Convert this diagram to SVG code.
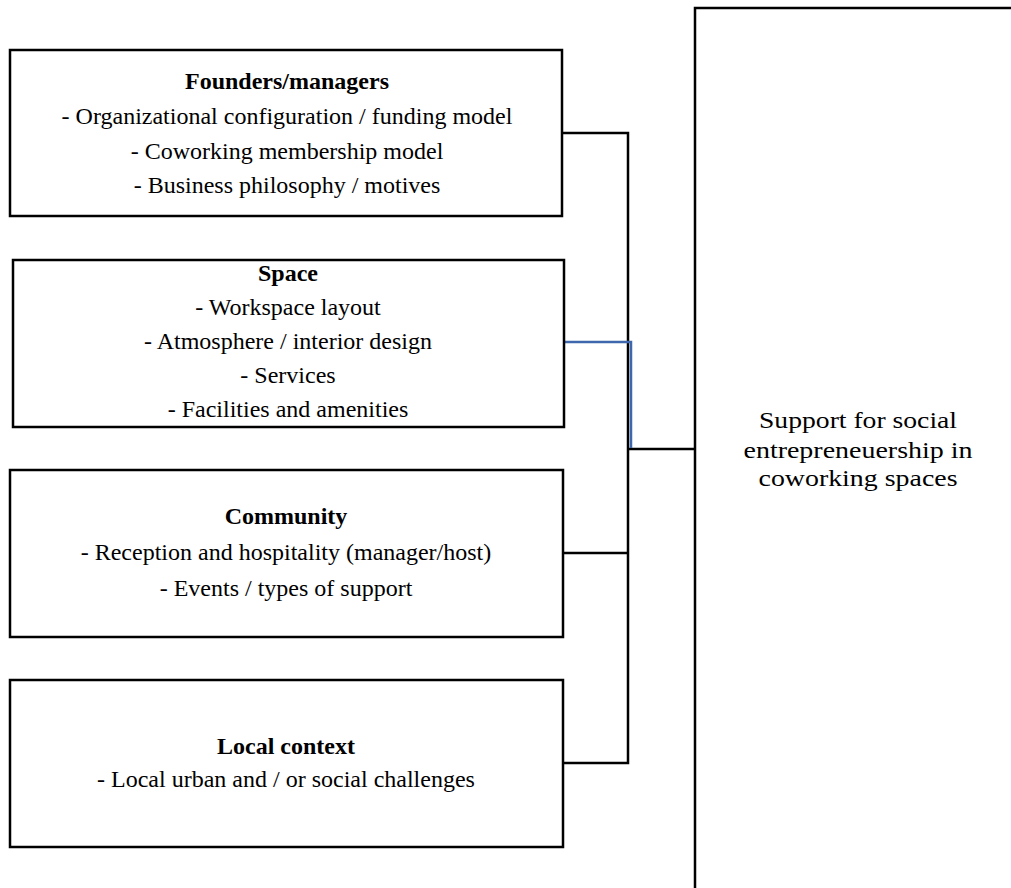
<svg xmlns="http://www.w3.org/2000/svg" width="1011" height="888" viewBox="0 0 1011 888">
<style>
.box{fill:#fff;stroke:#000;stroke-width:2.5}
.t{font-family:"Liberation Serif","Times New Roman",serif;font-size:24px;fill:#000;text-anchor:middle}
.b{font-weight:bold}
.big{font-family:"Liberation Serif","Times New Roman",serif;font-size:23px;fill:#000;text-anchor:middle}
.c{fill:none;stroke:#000;stroke-width:2.5}
.cb{fill:none;stroke:#3f67ad;stroke-width:2.5}
</style>
<rect width="1011" height="888" fill="#fff"/>
<g id="connectors">
<polyline class="c" points="562,133 628,133 628,763 563,763"/>
<line class="c" x1="563" y1="553" x2="628" y2="553"/>
<line class="c" x1="628" y1="449" x2="695" y2="449"/>
<polyline class="cb" points="564,342 631,342 631,448"/>
</g>
<g id="outcome">
<rect class="box" x="695" y="8" width="400" height="1000"/>
<text class="big" x="858" y="428" textLength="198" lengthAdjust="spacingAndGlyphs">Support for social</text>
<text class="big" x="858" y="458" textLength="229" lengthAdjust="spacingAndGlyphs">entrepreneuership in</text>
<text class="big" x="858" y="486" textLength="199" lengthAdjust="spacingAndGlyphs">coworking spaces</text>
</g>
<g id="founders">
<rect class="box" x="10" y="50" width="552" height="166"/>
<text class="t b" x="287" y="89">Founders/managers</text>
<text class="t" x="287" y="124">- Organizational configuration / funding model</text>
<text class="t" x="287" y="159">- Coworking membership model</text>
<text class="t" x="287" y="193">- Business philosophy / motives</text>
</g>
<g id="space">
<rect class="box" x="13" y="260" width="551" height="167"/>
<text class="t b" x="288" y="281">Space</text>
<text class="t" x="288" y="315">- Workspace layout</text>
<text class="t" x="288" y="349">- Atmosphere / interior design</text>
<text class="t" x="288" y="383">- Services</text>
<text class="t" x="288" y="417">- Facilities and amenities</text>
</g>
<g id="community">
<rect class="box" x="10" y="470" width="553" height="167"/>
<text class="t b" x="286" y="524">Community</text>
<text class="t" x="286" y="560">- Reception and hospitality (manager/host)</text>
<text class="t" x="286" y="596">- Events / types of support</text>
</g>
<g id="local">
<rect class="box" x="10" y="680" width="553" height="167"/>
<text class="t b" x="286" y="754">Local context</text>
<text class="t" x="286" y="787">- Local urban and / or social challenges</text>
</g>
</svg>
